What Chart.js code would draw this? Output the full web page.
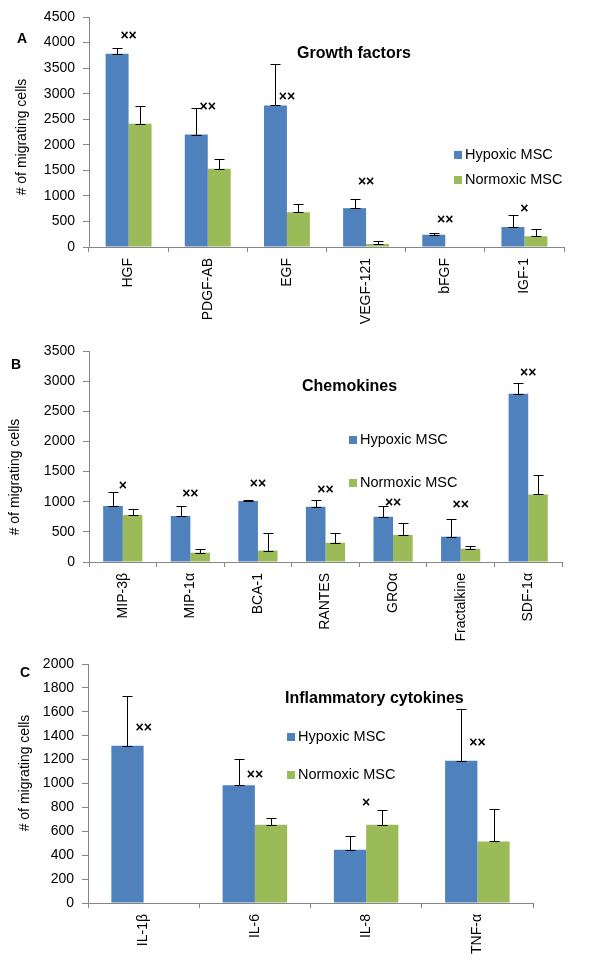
<!DOCTYPE html>
<html>
<head>
<meta charset="utf-8">
<script src="https://cdn.jsdelivr.net/npm/chart.js@4"></script>
<style>
  body { margin: 0; background: #fff; }
  #wrap { position: relative; width: 591px; height: 975px; overflow: hidden; }
  canvas { position: absolute; left: 0; }
</style>
</head>
<body>
<div id="wrap">
  <canvas id="panelA" width="591" height="345" style="top:0px"></canvas>
  <canvas id="panelB" width="591" height="345" style="top:320px"></canvas>
  <canvas id="panelC" width="591" height="335" style="top:640px"></canvas>
</div>
<script>
// ---- data ----
const seriesNames = ["Hypoxic MSC", "Normoxic MSC"];

// A: growth factors
const growthLabels = ["HGF", "PDGF-AB", "EGF", "VEGF-121", "bFGF", "IGF-1"];
const growthHypoxic = [3780, 2200, 2770, 760, 240, 390];
const growthNormoxic = [2410, 1530, 680, 60, 0, 210];
const growthHypoxicErr = [120, 510, 810, 170, 30, 240];
const growthNormoxicErr = [340, 200, 170, 60, 0, 150];
const growthStars = ["××", "××", "××", "××", "××", "×"];
const growthStarAt = [4120, 2730, 2930, 1260, 520, 750];
const growthTicks = [0, 4500, 500];

// B: chemokines
const chemoLabels = ["MIP-3β", "MIP-1α", "BCA-1", "RANTES", "GROα", "Fractalkine", "SDF-1α"];
const chemoHypoxic = [930, 765, 1010, 915, 750, 420, 2790];
const chemoNormoxic = [780, 155, 190, 320, 450, 220, 1120];
const chemoHypoxicErr = [230, 165, 20, 110, 180, 290, 175];
const chemoNormoxicErr = [95, 55, 290, 160, 195, 45, 325];
const chemoStars = ["×", "××", "××", "××", "××", "××", "××"];
const chemoStarAt = [1264, 1120, 1286, 1186, 971, 937, 3130];
const chemoTicks = [0, 3500, 500];

// C: inflammatory cytokines
const cytoLabels = ["IL-1β", "IL-6", "IL-8", "TNF-α"];
const cytoHypoxic = [1315, 985, 445, 1190];
const cytoNormoxic = [0, 655, 655, 515];
const cytoHypoxicErr = [415, 220, 115, 430];
const cytoNormoxicErr = [0, 55, 125, 270];
const cytoStars = ["××", "××", "×", "××"];
const cytoStarAt = [1461, 1068, 833, 1336];
const cytoTicks = [0, 2000, 200];

const BLUE = "#4F81BD";
const GREEN = "#9BBB59";
const AXIS = "#868686";
const FONT = "'Liberation Sans', Arial, sans-serif";

// draws error bars, significance marks, titles and legend
const overlayPlugin = {
  id: "overlay",
  afterDatasetsDraw(chart, args, opts) {
    const ctx = chart.ctx;
    const y = chart.scales.y;
    const x = chart.scales.x;
    ctx.save();
    ctx.strokeStyle = "#000";
    ctx.lineWidth = 1;
    chart.data.datasets.forEach((ds, i) => {
      const meta = chart.getDatasetMeta(i);
      meta.data.forEach((bar, j) => {
        const e = opts.errors[i][j];
        if (!e) return;
        const bx = Math.round(bar.x) + 0.5;
        const y0 = Math.round(y.getPixelForValue(ds.data[j])) + 0.5;
        const y1 = Math.round(y.getPixelForValue(ds.data[j] + e)) + 0.5;
        ctx.beginPath();
        ctx.moveTo(bx, y0); ctx.lineTo(bx, y1);
        ctx.moveTo(bx - 5, y1); ctx.lineTo(bx + 5, y1);
        ctx.moveTo(bx - 5, y0); ctx.lineTo(bx + 5, y0);
        ctx.stroke();
      });
    });
    // significance marks
    ctx.fillStyle = "#000";
    ctx.font = "bold 14px " + FONT;
    ctx.textAlign = "center";
    ctx.textBaseline = "middle";
    opts.stars.forEach((s, j) => {
      ctx.fillText(s, x.getPixelForValue(j), y.getPixelForValue(opts.starAt[j]));
    });
    ctx.restore();
  },
  afterDraw(chart, args, opts) {
    const ctx = chart.ctx;
    ctx.save();
    ctx.fillStyle = "#000";
    ctx.textBaseline = "middle";
    // panel letter
    ctx.font = "bold 14px " + FONT;
    ctx.textAlign = "center";
    ctx.fillText(opts.letter, opts.letterPos[0], opts.letterPos[1]);
    // chart title
    ctx.font = "bold 16px " + FONT;
    ctx.textAlign = "left";
    ctx.fillText(opts.title, opts.titlePos[0], opts.titlePos[1]);
    // legend
    ctx.font = "14.5px " + FONT;
    chart.data.datasets.forEach((ds, i) => {
      const ly = opts.legendPos[1] + i * opts.legendGap;
      ctx.fillStyle = ds.backgroundColor;
      ctx.fillRect(opts.legendPos[0], ly - 4, 8, 8);
      ctx.fillStyle = "#000";
      ctx.fillText(ds.label, opts.legendPos[0] + 11, ly);
    });
    // y axis title
    ctx.font = "14px " + FONT;
    ctx.textAlign = "center";
    ctx.translate(opts.yTitlePos[0], opts.yTitlePos[1]);
    ctx.rotate(-Math.PI / 2);
    ctx.fillText("# of migrating cells", 0, 0);
    ctx.restore();
  }
};

function makePanel(id, labels, hyp, norm, ticks, box, overlay) {
  const canvas = document.getElementById(id);
  return new Chart(canvas.getContext("2d"), {
    type: "bar",
    data: {
      labels: labels,
      datasets: [
        { label: seriesNames[0], data: hyp, backgroundColor: BLUE },
        { label: seriesNames[1], data: norm, backgroundColor: GREEN }
      ]
    },
    options: {
      responsive: false,
      animation: false,
      devicePixelRatio: 1,
      categoryPercentage: 0.58,
      barPercentage: 1,
      layout: { padding: { top: box.top, right: canvas.width - box.right, left: 0, bottom: 0 } },
      plugins: {
        legend: { display: false },
        tooltip: { enabled: false },
        overlay: overlay
      },
      scales: {
        x: {
          grid: { offset: true, drawOnChartArea: false, tickLength: 5, color: AXIS },
          border: { color: AXIS },
          ticks: { minRotation: 90, maxRotation: 90, color: "#000", padding: 6, font: { family: FONT, size: 14 } },
          afterFit: (s) => { s.height = canvas.height - box.bottom; }
        },
        y: {
          min: ticks[0],
          max: ticks[1],
          grid: { drawOnChartArea: false, tickLength: 6, color: AXIS },
          border: { color: AXIS },
          ticks: {
            stepSize: ticks[2], color: "#000", padding: 8,
            font: { family: FONT, size: 14 },
            callback: (v) => String(v)
          },
          afterFit: (s) => { s.width = box.left; }
        }
      }
    },
    plugins: [overlayPlugin]
  });
}

makePanel("panelA", growthLabels, growthHypoxic, growthNormoxic, growthTicks,
  { left: 89, right: 564, top: 17, bottom: 247 },
  { errors: [growthHypoxicErr, growthNormoxicErr], stars: growthStars, starAt: growthStarAt,
    letter: "A", letterPos: [22, 39], title: "Growth factors", titlePos: [297, 54],
    legendPos: [454, 155], legendGap: 25, yTitlePos: [22, 137] });

makePanel("panelB", chemoLabels, chemoHypoxic, chemoNormoxic, chemoTicks,
  { left: 89, right: 562, top: 31, bottom: 242 },
  { errors: [chemoHypoxicErr, chemoNormoxicErr], stars: chemoStars, starAt: chemoStarAt,
    letter: "B", letterPos: [16, 45], title: "Chemokines", titlePos: [302, 67],
    legendPos: [349, 120], legendGap: 43, yTitlePos: [15, 157] });

makePanel("panelC", cytoLabels, cytoHypoxic, cytoNormoxic, cytoTicks,
  { left: 88, right: 533, top: 24, bottom: 263 },
  { errors: [cytoHypoxicErr, cytoNormoxicErr], stars: cytoStars, starAt: cytoStarAt,
    letter: "C", letterPos: [25, 33], title: "Inflammatory cytokines", titlePos: [285, 59],
    legendPos: [287, 97], legendGap: 38, yTitlePos: [25, 133] });
</script>
</body>
</html>
